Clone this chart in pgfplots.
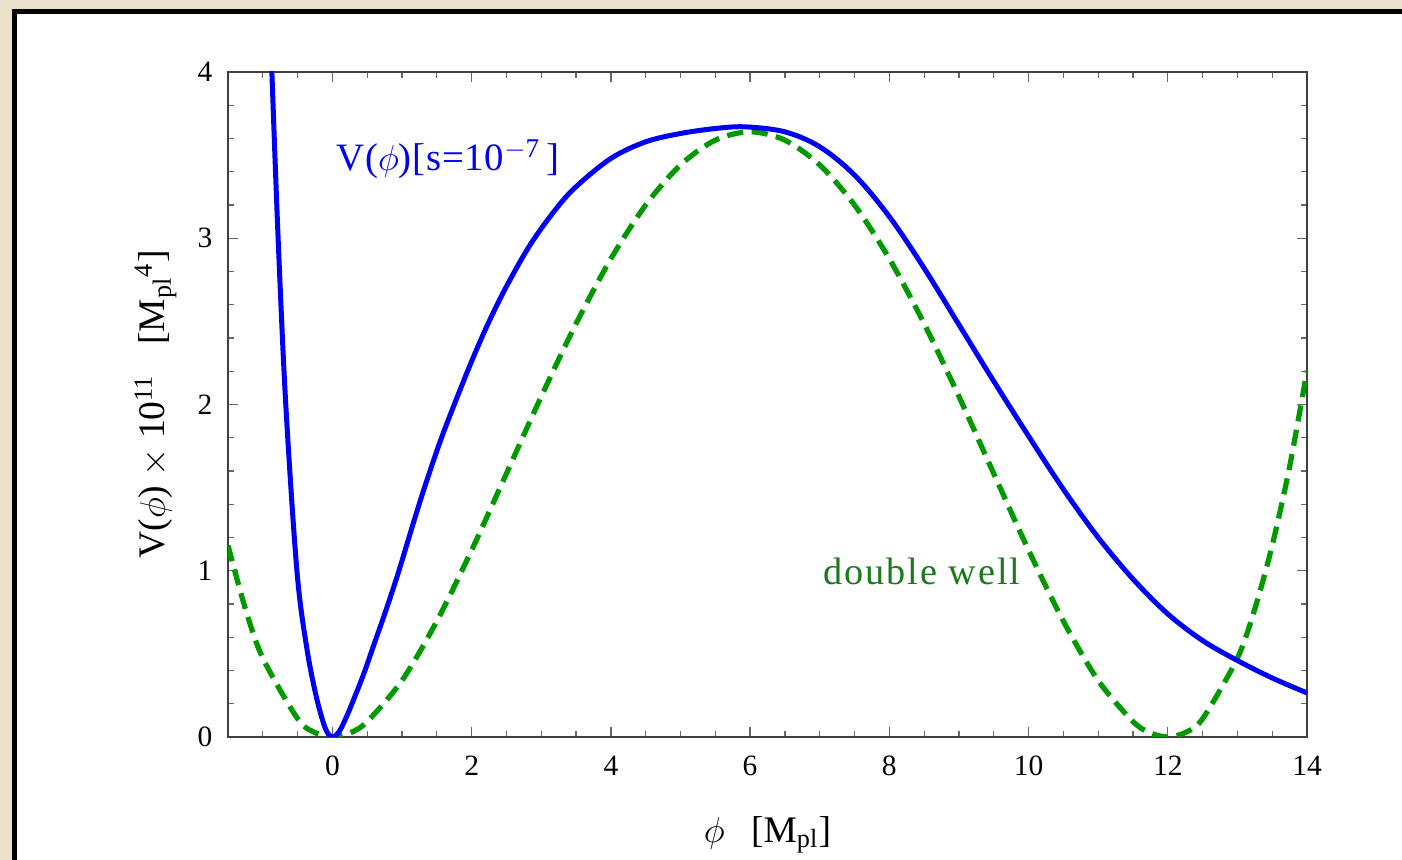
\documentclass[border=0pt]{standalone}
\usepackage{fontspec}
\setmainfont{Liberation Serif}
\usepackage{pgfplots}
\pgfplotsset{compat=1.18}
\definecolor{parch}{RGB}{234,225,203}
\definecolor{dwline}{RGB}{0,153,0}
\definecolor{dwtext}{RGB}{28,122,28}
\definecolor{vblue}{RGB}{0,0,245}
\begin{document}
\begin{tikzpicture}[x=1pt,y=1pt]
\fill[parch] (0,0) rectangle (560.8,344);
\fill[black] (4.8,-5) rectangle (570,340.4);
\fill[white] (6.8,-5) rectangle (570,338.4);
\begin{axis}[
  at={(91.2pt,49.2pt)}, anchor=south west,
  scale only axis, width=431.6pt, height=266pt,
  xmin=-1.5, xmax=14, ymin=0, ymax=4,
  xtick={0,2,...,14}, ytick={0,1,2,3,4},
  minor xtick={-1,-0.5,...,14}, minor ytick={0,0.2,...,4},
  tick align=inside, ticks=both,
  major tick length=4pt, minor tick length=2.5pt,
  every tick/.style={black!60, line width=0.5pt},
  axis line style={black!75, line width=0.6pt},
  /pgf/number format/assume math mode=true,
  xticklabel style={yshift=-4.2pt, font=\fontsize{11.8}{14}\selectfont},
  yticklabel style={xshift=-2.7pt, font=\fontsize{11.8}{14}\selectfont},
  xlabel={$\phi$\hspace{0.7em}[M\textsubscript{pl}]},
  ylabel={V($\phi$) $\times$ 10\textsuperscript{11}\hspace{0.8em}[M\textsubscript{pl}\textsuperscript{4}]},
  xlabel style={at={(axis description cs:0.5,-0.158)}, anchor=base, font=\fontsize{15}{18}\selectfont},
  ylabel style={at={(axis description cs:-0.0584,0.5)}, anchor=base, font=\fontsize{15}{18}\selectfont},
  clip=true,
]
\addplot[dwline, line width=2.1pt, dash pattern=on 6.5pt off 3.4pt, smooth] coordinates {
(-1.5,1.152) (-1.25,0.7705) (-1.0,0.4747) (-0.5,0.1097) (-0.25,0.0263) (0,0) (0.25,0.0242) (0.5,0.0929)
(1.0,0.3399) (1.5,0.6968) (2.0,1.1236) (2.5,1.5844) (3.0,2.0478) (3.5,2.4861)
(4.0,2.8764) (4.5,3.1996) (5.0,3.4410) (5.5,3.5901) (6.0,3.6405) (6.5,3.5901)
(7.0,3.4410) (7.5,3.1996) (8.0,2.8764) (8.5,2.4861) (9.0,2.0478) (9.5,1.5844)
(10.0,1.1236) (10.5,0.6968) (11.0,0.3399) (11.5,0.0929) (11.75,0.0242) (12.0,0) (12.25,0.0263) (12.5,0.1097)
(13.0,0.4747) (13.25,0.7705) (13.5,1.152) (13.75,1.6264) (14.0,2.2023)
};
\addplot[vblue, line width=2pt, smooth, tension=0.55] coordinates {
(-0.90,4.35) (-0.87,4.0) (-0.78,3.0) (-0.67,2.0) (-0.51,1.0) (-0.37,0.54) (-0.23,0.24)
(-0.1,0.05) (0,0) (0.1,0.035) (0.2,0.12) (0.3,0.22) (0.45,0.38) (0.6,0.56) (0.8,0.8)
(0.97,1.02) (1.15,1.27) (1.33,1.51) (1.55,1.78) (1.76,2.01) (2.0,2.26) (2.24,2.49)
(2.5,2.71) (2.84,2.96) (3.2,3.17) (3.5,3.31) (4.0,3.48) (4.5,3.58) (5.0,3.63)
(5.5,3.66) (5.93,3.67) (6.5,3.64) (7.0,3.55) (7.5,3.38) (8.0,3.13) (8.5,2.82)
(9.0,2.48) (9.5,2.14) (10.0,1.81) (10.5,1.49) (11.0,1.2) (11.5,0.95) (12.0,0.74)
(12.5,0.58) (13.0,0.46) (13.5,0.355) (14.0,0.265)
};
\node[anchor=base west, inner sep=0pt, text=vblue, font=\fontsize{15.5}{18}\selectfont\addfontfeature{LetterSpace=2}] at (axis cs:0.05,3.41) {V($\phi$)[s=10\textsuperscript{$-$7}\,]};
\node[anchor=base west, inner sep=0pt, text=dwtext, font=\fontsize{15.3}{18}\selectfont\addfontfeature{LetterSpace=5}] at (axis cs:7.05,0.92) {double well};
\end{axis}
\pgfresetboundingbox
\path[use as bounding box] (0,0) rectangle (560.8,344);
\end{tikzpicture}
\end{document}
